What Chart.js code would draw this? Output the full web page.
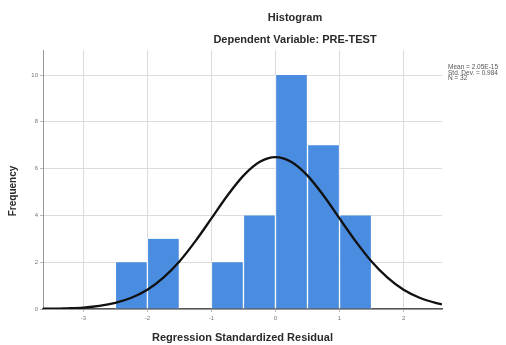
<!DOCTYPE html>
<html lang="en">
<head>
    <meta charset="UTF-8">
    <title>Histogram</title>
    <script src="https://cdn.jsdelivr.net/npm/chart.js"></script>
    <style>
        html, body { margin: 0; padding: 0; background: #fff; }
        #wrap { position: relative; width: 506px; height: 345px; }
    </style>
</head>
<body>
    <div id="wrap"><canvas id="histChart" width="506" height="345"></canvas></div>

    <script>
        // histogram bins (width 0.5) and counts
        const binCenters = [-2.25, -1.75, -1.25, -0.75, -0.25, 0.25, 0.75, 1.25];
        const frequencies = [2, 3, 0, 2, 4, 10, 7, 4];

        // normal curve
        const curveX = [-3.63, -3.5, -3.25, -3, -2.75, -2.5, -2.25, -2, -1.75, -1.5, -1.25, -1, -0.75, -0.5, -0.25,
                        0, 0.25, 0.5, 0.75, 1, 1.25, 1.5, 1.75, 2, 2.25, 2.5, 2.6];
        const curveY = [0.01, 0.01, 0.03, 0.06, 0.13, 0.26, 0.48, 0.82, 1.34, 2.03, 2.9, 3.87, 4.85, 5.7, 6.28,
                        6.49, 6.28, 5.7, 4.85, 3.87, 2.9, 2.03, 1.34, 0.82, 0.48, 0.26, 0.2];

        const xTicks = [-3, -2, -1, 0, 1, 2];
        const yTicks = [0, 2, 4, 6, 8, 10];

        const chartTitle = 'Histogram';
        const chartSubtitle = 'Dependent Variable: PRE-TEST';
        const xTitle = 'Regression Standardized Residual';
        const yTitle = 'Frequency';
        const statsLines = ['Mean = 2.05E-15', 'Std. Dev. = 0.984', 'N = 32'];

        // titles and the stats note, drawn after the chart
        const textPlugin = {
            id: 'spssText',
            afterDraw(chart) {
                const ctx = chart.ctx;
                const area = chart.chartArea;
                ctx.save();
                ctx.fillStyle = '#2a2a2a';
                ctx.textAlign = 'center';
                ctx.textBaseline = 'middle';
                ctx.font = 'bold 11px "Liberation Sans", Arial, sans-serif';
                ctx.fillText(chartTitle, 295, 18);
                ctx.fillText(chartSubtitle, 295, 40);
                ctx.fillText(xTitle, (area.left + area.right) / 2, 338);

                ctx.save();
                ctx.translate(13, 191);
                ctx.rotate(-Math.PI / 2);
                ctx.font = 'bold 10px "Liberation Sans", Arial, sans-serif';
                ctx.fillText(yTitle, 0, 0);
                ctx.restore();

                ctx.textAlign = 'left';
                ctx.font = '6.5px "Liberation Sans", Arial, sans-serif';
                ctx.fillStyle = '#555';
                statsLines.forEach((s, i) => ctx.fillText(s, 448, 67 + i * 5.8));
                ctx.restore();
            }
        };

        const ctx = document.getElementById('histChart').getContext('2d');
        new Chart(ctx, {
            type: 'bar',
            data: {
                datasets: [
                    {
                        type: 'line',
                        label: 'Normal',
                        data: curveX.map((x, i) => ({ x: x, y: curveY[i] })),
                        borderColor: '#111',
                        borderWidth: 2.3,
                        pointRadius: 0,
                        fill: false,
                        cubicInterpolationMode: 'monotone',
                        order: 0
                    },
                    {
                        label: 'Frequency',
                        data: binCenters.map((x, i) => ({ x: x, y: frequencies[i] })),
                        backgroundColor: '#4a8de0',
                        borderColor: 'rgba(255,255,255,0.75)',
                        borderWidth: { left: 1, right: 1, top: 0, bottom: 0 },
                        barPercentage: 1,
                        categoryPercentage: 1,
                        order: 1
                    }
                ]
            },
            options: {
                responsive: false,
                animation: false,
                layout: { padding: { top: 50, right: 64, left: 0, bottom: 0 } },
                plugins: {
                    legend: { display: false },
                    tooltip: { enabled: false }
                },
                scales: {
                    x: {
                        type: 'linear',
                        min: -3.63,
                        max: 2.6,
                        offset: false,
                        afterFit: s => { s.height = 36; },
                        afterBuildTicks: s => { s.ticks = xTicks.map(v => ({ value: v })); },
                        grid: { color: '#dcdcdc', offset: false, tickLength: 3, tickColor: '#bbb' },
                        border: { color: '#555', width: 1.5 },
                        ticks: { color: '#777', padding: 3, font: { size: 6, family: 'Liberation Sans' } }
                    },
                    y: {
                        min: 0,
                        max: 11.07,
                        afterFit: s => { s.width = 43; },
                        afterBuildTicks: s => { s.ticks = yTicks.map(v => ({ value: v })); },
                        grid: { color: '#dcdcdc', tickLength: 3, tickColor: '#bbb' },
                        border: { color: '#999', width: 1 },
                        ticks: { color: '#777', padding: 2, font: { size: 6, family: 'Liberation Sans' } }
                    }
                }
            },
            plugins: [textPlugin]
        });
    </script>
</body>
</html>
